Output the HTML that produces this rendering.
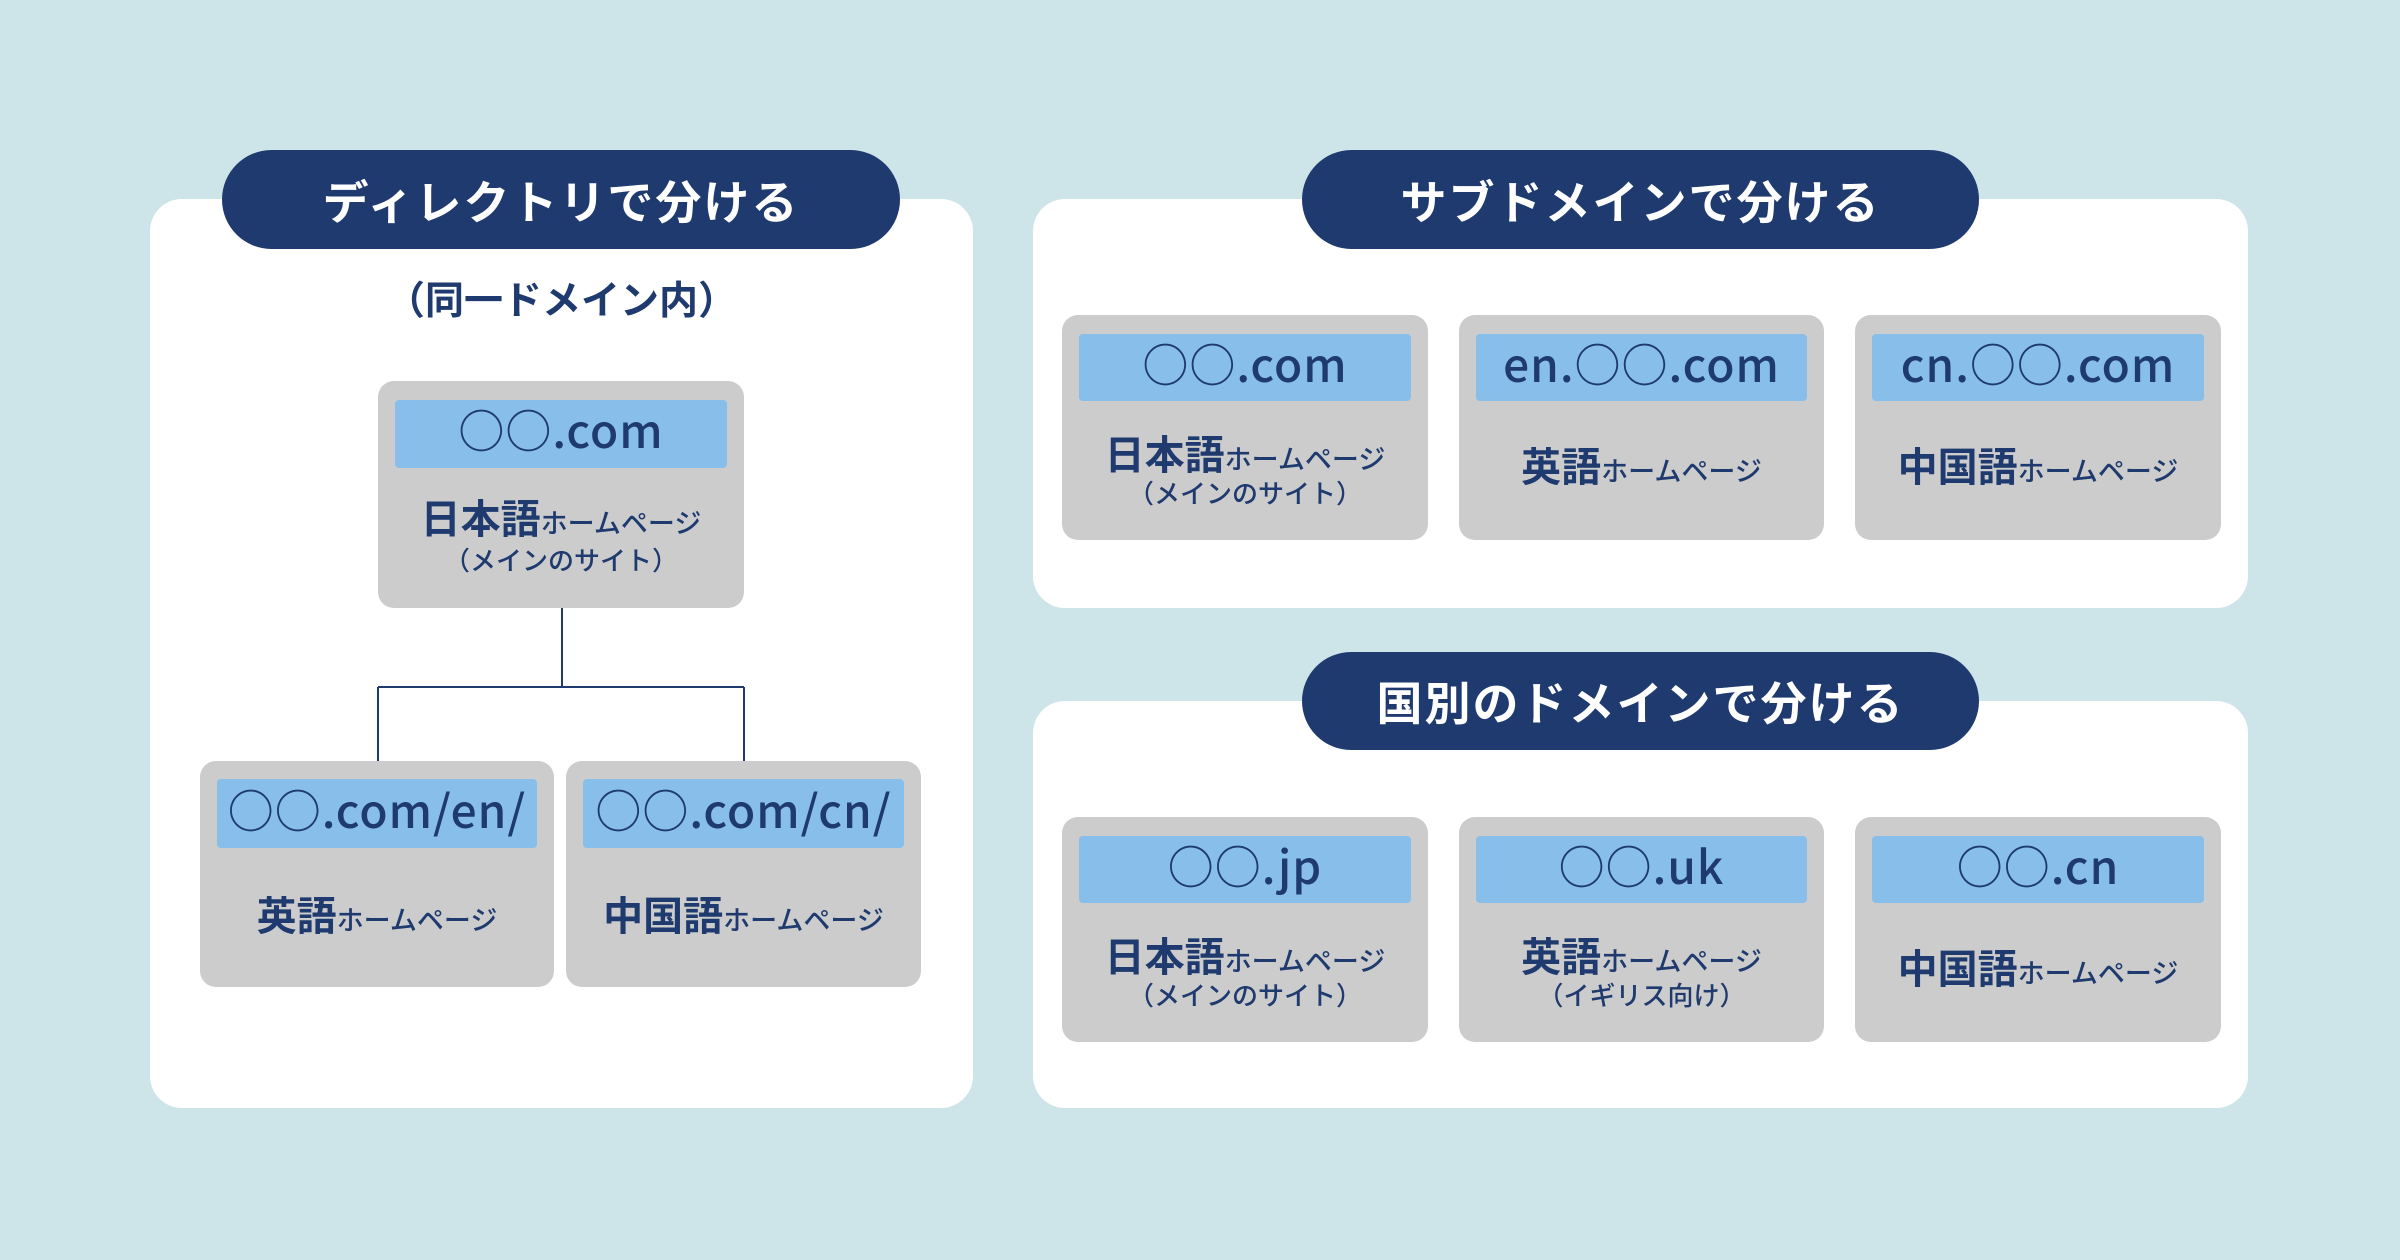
<!DOCTYPE html>
<html><head><meta charset="utf-8"><style>
*{margin:0;padding:0;box-sizing:border-box}
body{width:2400px;height:1260px;background:#cde4e8;position:relative;overflow:hidden;font-family:"Liberation Sans","Noto Sans CJK JP",sans-serif;color:#1f3a6e}
.abs{position:absolute}
.panel{position:absolute;background:#fff;border-radius:32px}
.pill{position:absolute;background:#1f3a6e;color:#fff;border-radius:50px;display:flex;align-items:center;justify-content:center;font-size:46px;font-weight:700;font-family:"Noto Sans CJK JP",sans-serif;letter-spacing:2px}
.card{position:absolute;background:#cccccc;border-radius:16px}
.bar{position:absolute;background:#88bfea;border-radius:4px;display:flex;align-items:center;justify-content:center;font-size:46px;font-weight:500;font-family:"Noto Sans CJK JP",sans-serif;color:#1f3a6e;letter-spacing:1px;padding-bottom:10px}
.lab{position:absolute;left:0;right:0;text-align:center;font-family:"Noto Sans CJK JP",sans-serif;font-weight:600;font-size:40px;line-height:1;white-space:nowrap}
.lab small{font-size:27px;font-weight:500}
.sub{position:absolute;left:0;right:0;text-align:center;font-family:"Noto Sans CJK JP",sans-serif;font-weight:500;font-size:26px;line-height:1;white-space:nowrap}
</style></head><body>

<div class="panel" style="left:150px;top:199px;width:823px;height:909px"></div>
<div class="panel" style="left:1033px;top:199px;width:1215px;height:409px"></div>
<div class="panel" style="left:1033px;top:701px;width:1215px;height:407px"></div>

<div class="pill" style="left:222px;top:150px;width:678px;height:99px">ディレクトリで分ける</div>
<div class="pill" style="left:1302px;top:150px;width:677px;height:99px">サブドメインで分ける</div>
<div class="pill" style="left:1302px;top:652px;width:677px;height:98px">国別のドメインで分ける</div>

<div class="abs" style="left:150px;width:823px;top:270px;text-align:center;font-family:'Noto Sans CJK JP',sans-serif;font-weight:600;font-size:39px">（同一ドメイン内）</div>

<svg class="abs" style="left:0;top:0" width="2400" height="1260">
<path d="M562 608V687M378 687H744M378 687V761M744 687V761" stroke="#1f3a6e" stroke-width="2" fill="none"/>
</svg>

<div class="card" style="left:378px;top:381px;width:366px;height:227px">
<div class="bar" style="left:17px;top:19px;width:332px;height:68px">○○.com</div>
<div class="lab" style="top:115px">日本語<small>ホームページ</small></div>
<div class="sub" style="top:166px">（メインのサイト）</div>
</div>

<div class="card" style="left:200px;top:761px;width:354px;height:226px">
<div class="bar" style="left:17px;top:18px;width:320px;height:69px">○○.com/en/</div>
<div class="lab" style="top:132px">英語<small>ホームページ</small></div>
</div>
<div class="card" style="left:566px;top:761px;width:355px;height:226px">
<div class="bar" style="left:17px;top:18px;width:321px;height:69px">○○.com/cn/</div>
<div class="lab" style="top:132px">中国語<small>ホームページ</small></div>
</div>

<div class="card" style="left:1062px;top:315px;width:366px;height:225px">
<div class="bar" style="left:17px;top:19px;width:332px;height:67px">○○.com</div>
<div class="lab" style="top:117px">日本語<small>ホームページ</small></div>
<div class="sub" style="top:165px">（メインのサイト）</div>
</div>
<div class="card" style="left:1459px;top:315px;width:365px;height:225px">
<div class="bar" style="left:17px;top:19px;width:331px;height:67px">en.○○.com</div>
<div class="lab" style="top:129px">英語<small>ホームページ</small></div>
</div>
<div class="card" style="left:1855px;top:315px;width:366px;height:225px">
<div class="bar" style="left:17px;top:19px;width:332px;height:67px">cn.○○.com</div>
<div class="lab" style="top:129px">中国語<small>ホームページ</small></div>
</div>

<div class="card" style="left:1062px;top:817px;width:366px;height:225px">
<div class="bar" style="left:17px;top:19px;width:332px;height:67px">○○.jp</div>
<div class="lab" style="top:117px">日本語<small>ホームページ</small></div>
<div class="sub" style="top:165px">（メインのサイト）</div>
</div>
<div class="card" style="left:1459px;top:817px;width:365px;height:225px">
<div class="bar" style="left:17px;top:19px;width:331px;height:67px">○○.uk</div>
<div class="lab" style="top:117px">英語<small>ホームページ</small></div>
<div class="sub" style="top:165px">（イギリス向け）</div>
</div>
<div class="card" style="left:1855px;top:817px;width:366px;height:225px">
<div class="bar" style="left:17px;top:19px;width:332px;height:67px">○○.cn</div>
<div class="lab" style="top:129px">中国語<small>ホームページ</small></div>
</div>

</body></html>
